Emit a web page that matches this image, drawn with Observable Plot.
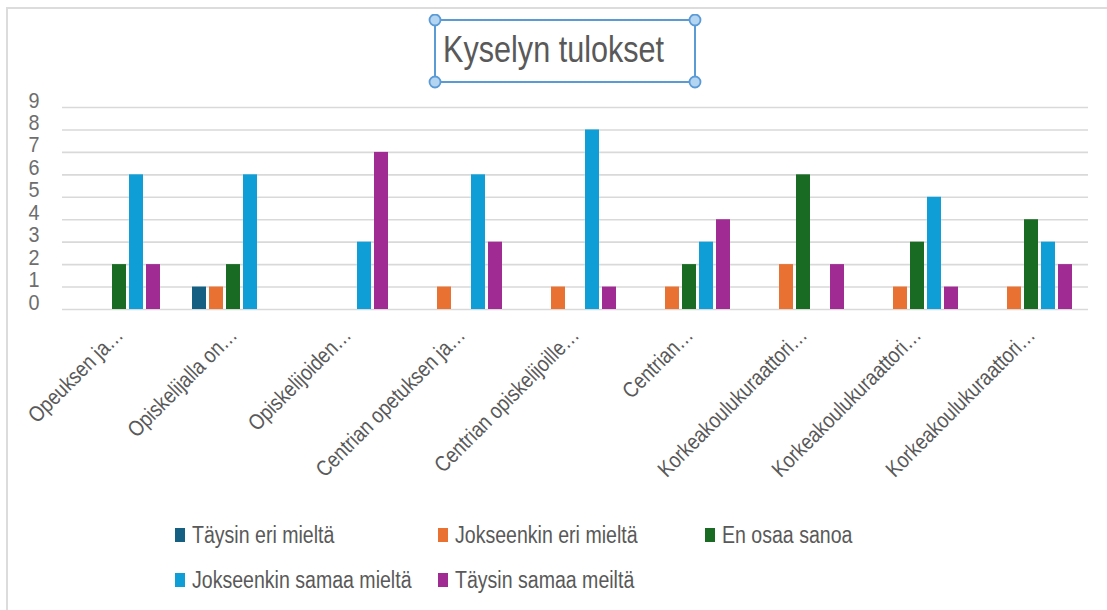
<!DOCTYPE html>
<html>
<head>
<meta charset="utf-8">
<script src="https://cdn.jsdelivr.net/npm/d3@7"></script>
<script src="https://cdn.jsdelivr.net/npm/@observablehq/plot@0.6"></script>
<style>
  html, body { margin: 0; padding: 0; background: #fff; }
  #page { position: relative; width: 1107px; height: 610px; overflow: hidden; background: #fff;
          font-family: "Liberation Sans", Arial, sans-serif; }
  #frame { position: absolute; left: 6px; top: 7px; width: 1200px; height: 700px;
           border-left: 2px solid #dcdcdc; border-top: 2px solid #dcdcdc; pointer-events: none; }
  #chart { position: absolute; left: 0; top: 0; }
  #titlebox { position: absolute; left: 428px; top: 14px; }
  #title { position: absolute; left: 443px; top: 29px; font-size: 36px; color: #595959; line-height: 42px;
           white-space: nowrap; display: inline-block; transform: scaleX(0.85); transform-origin: 0 50%; }
  .lg { position: absolute; display: flex; align-items: center; font-size: 23px; color: #595959; white-space: nowrap; }
  .lg .sw { width: 10px; height: 14px; margin-right: 7px; flex: none; }
  .lg span { display: inline-block; transform: scaleX(0.85); transform-origin: 0 50%; }
</style>
</head>
<body>
<div id="page">
  <div id="chart"></div>
  <svg id="titlebox" width="275" height="76"></svg>
  <div id="title">Kyselyn tulokset</div>
  <div id="legend"></div>
  <div id="frame"></div>
</div>
<script>
// ---- data ----
const categories = [
  "Opeuksen ja…",
  "Opiskelijalla on…",
  "Opiskelijoiden…",
  "Centrian opetuksen ja…",
  "Centrian opiskelijoille…",
  "Centrian…",
  "Korkeakoulukuraattori…",
  "Korkeakoulukuraattori…",
  "Korkeakoulukuraattori…"
];
const seriesNames = [
  "Täysin eri mieltä",
  "Jokseenkin eri mieltä",
  "En osaa sanoa",
  "Jokseenkin samaa mieltä",
  "Täysin samaa meiltä"
];
const taysinEri       = [0, 1, 0, 0, 0, 0, 0, 0, 0];
const jokseenkinEri   = [0, 1, 0, 1, 1, 1, 2, 1, 1];
const enOsaaSanoa     = [2, 2, 0, 0, 0, 2, 6, 3, 4];
const jokseenkinSamaa = [6, 6, 3, 6, 8, 3, 0, 5, 3];
const taysinSamaa     = [2, 0, 7, 3, 1, 4, 2, 1, 2];
const seriesColors = ["#156082", "#e97132", "#196b24", "#0f9ed5", "#a02b93"];
const yTicks = [0, 1, 2, 3, 4, 5, 6, 7, 8, 9];

const FONT = '"Liberation Sans", Arial, sans-serif';

const seriesValues = [taysinEri, jokseenkinEri, enOsaaSanoa, jokseenkinSamaa, taysinSamaa];
const rows = [];
categories.forEach((c, i) => {
  seriesNames.forEach((s, j) => {
    const v = seriesValues[j][i];
    if (v > 0) rows.push({cat: i, series: s, value: v});
  });
});

const chart = Plot.plot({
  width: 1107,
  height: 500,
  marginTop: 107,
  marginBottom: 191,
  marginLeft: 60,
  marginRight: 17,
  style: {fontFamily: FONT, background: "none", color: "#595959", overflow: "visible"},
  fx: {domain: d3.range(categories.length), padding: 0, label: null},
  x: {domain: seriesNames, axis: null, paddingInner: 0.2, paddingOuter: 0.95},
  y: {domain: [0, 9], label: null},
  color: {domain: seriesNames, range: seriesColors},
  marks: [
    Plot.ruleY(yTicks, {stroke: "#d9d9d9", strokeWidth: 1.6}),
    Plot.barY(rows, {fx: "cat", x: "series", y: "value", fill: "series"}),
    Plot.axisY({ticks: yTicks, tickSize: 0, tickPadding: 23, fontSize: 22, dy: -7, color: "#6e6e6e", label: null}),
    Plot.axisFx({anchor: "bottom", tickRotate: -45, tickSize: 0, tickPadding: 22, fontSize: 22, color: "#595959",
                 tickFormat: i => categories[i], label: null})
  ]
});
document.getElementById("chart").appendChild(chart);

// horizontally condense axis tick label glyphs (the reference text is narrow)
function condense(selector, s) {
  chart.querySelectorAll(selector).forEach(t => {
    const tr = t.getAttribute("transform") || "";
    t.setAttribute("transform", tr + ` scale(${s},1)`);
  });
}
condense("g[aria-label='fx-axis tick label'] text", 0.85);
condense("g[aria-label='y-axis tick label'] text", 0.9);

// ---- title selection box ----
const tb = d3.select("#titlebox");
tb.append("rect").attr("x", 7).attr("y", 6).attr("width", 260).attr("height", 62)
  .attr("fill", "none").attr("stroke", "#5b9bd5").attr("stroke-width", 2);
[[7, 6], [267, 6], [7, 68], [267, 68]].forEach(([cx, cy]) => {
  tb.append("circle").attr("cx", cx).attr("cy", cy).attr("r", 5.5)
    .attr("fill", "#b4d5f2").attr("stroke", "#5b9bd5").attr("stroke-width", 1.8);
});

// ---- legend ----
const legendPos = [[175, 535], [438, 535], [705, 535], [175, 580], [438, 580]];
const lg = d3.select("#legend");
seriesNames.forEach((s, j) => {
  const item = lg.append("div").attr("class", "lg")
    .style("left", legendPos[j][0] + "px").style("top", (legendPos[j][1] - 15) + "px").style("height", "30px");
  item.append("div").attr("class", "sw").style("background", seriesColors[j]);
  item.append("span").text(s);
});
</script>
</body>
</html>
